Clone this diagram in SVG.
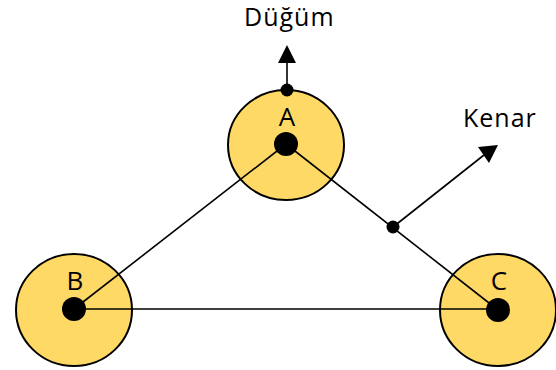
<svg xmlns="http://www.w3.org/2000/svg" width="556" height="370" viewBox="0 0 556 370">
<defs>
<style>
.node{fill:#FFD966;stroke:#000;stroke-width:2}
.hub{fill:#000}
.edge{stroke:#000;stroke-width:1.6;fill:none}
.lbl{font-family:"Open Sans","Liberation Sans",sans-serif;font-size:25px;fill:#000;letter-spacing:1px}
.nl{font-family:"Open Sans","Liberation Sans",sans-serif;font-size:26px;fill:#000;text-anchor:middle}
</style>
</defs>
<g id="nodeA"><ellipse class="node" cx="286" cy="145" rx="58" ry="55"/><text class="nl" x="287" y="126">A</text></g>
<g id="nodeB"><ellipse class="node" cx="74" cy="310" rx="58" ry="56"/><text class="nl" x="75" y="290">B</text></g>
<g id="nodeC"><ellipse class="node" cx="498" cy="310" rx="58" ry="56"/><text class="nl" x="499" y="290">C</text></g>
<g id="connectors">
<line class="edge" x1="286" y1="144" x2="74" y2="309"/>
<line class="edge" x1="286" y1="144" x2="498" y2="310"/>
<line class="edge" x1="74" y1="309" x2="498" y2="309"/>
<path d="M287,90 L287,62" class="edge"/>
<path d="M278,63 L287,45 L296,63 Z" fill="#000"/>
<path d="M393,227 L484,155" class="edge"/>
<path d="M478,147 L498,145 L489,163 Z" fill="#000"/>
</g>
<g id="hubs">
<circle class="hub" cx="286" cy="144" r="12"/>
<circle class="hub" cx="74" cy="309" r="12"/>
<circle class="hub" cx="498" cy="310" r="12"/>
<circle class="hub" cx="287" cy="90" r="6.5"/>
<circle class="hub" cx="393" cy="227" r="6.5"/>
</g>
<text class="lbl" x="244" y="26">Düğüm</text>
<text class="lbl" x="463" y="127">Kenar</text>
</svg>
